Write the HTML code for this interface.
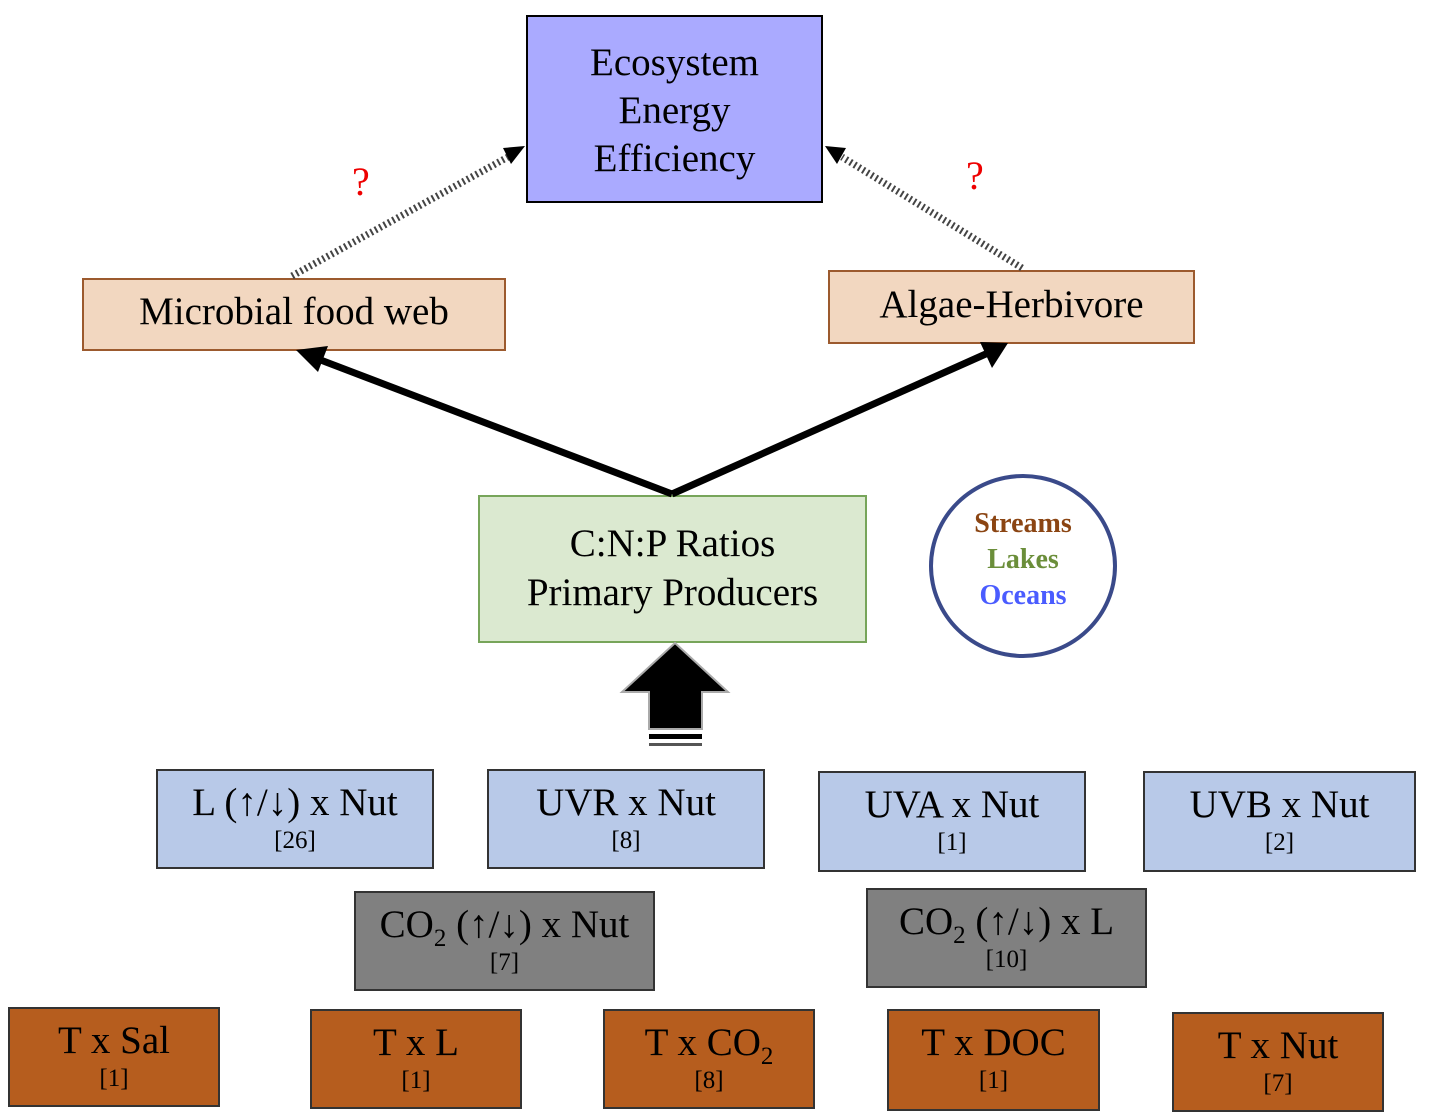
<!DOCTYPE html><html><head><style>
body{margin:0;width:1429px;height:1119px;background:#fff;position:relative;overflow:hidden;font-family:"Liberation Serif",serif}
.b{position:absolute;box-sizing:border-box;text-align:center;color:#000}
.t{font-size:39px;line-height:40px}
.s{font-size:25px;line-height:28px;margin-top:4px}
.blue{background:#b8c9e8;border:2px solid #333}
.gray{background:#808080;border:2px solid #333}
.brown{background:#b65d1e;border:2px solid #333}
sub{font-size:25px;line-height:0}
</style></head><body>
<div class="b t" style="left:526px;top:15px;width:297px;height:188px;background:#aaaaff;border:2px solid #000;padding-top:22px;line-height:48px">Ecosystem<br>Energy<br>Efficiency</div>
<div class="b t" style="left:82px;top:278px;width:424px;height:73px;background:#f2d7c0;border:2px solid #9c5a2e;padding-top:12px">Microbial food web</div>
<div class="b t" style="left:828px;top:270px;width:367px;height:74px;background:#f2d7c0;border:2px solid #9c5a2e;padding-top:13px">Algae-Herbivore</div>
<div class="b t" style="left:478px;top:495px;width:389px;height:148px;background:#dbe9d0;border:2px solid #77a55a;padding-top:22px;line-height:49px">C:N:P Ratios<br>Primary Producers</div>
<div class="b" style="left:929px;top:474px;width:188px;height:184px;border:4px solid #3a4a8a;border-radius:50%;font-weight:bold;font-size:28px;line-height:36px;padding-top:28px"><span style="color:#8b4513">Streams</span><br><span style="color:#6b8e3a">Lakes</span><br><span style="color:#4a5cff">Oceans</span></div>
<div style="position:absolute;left:352px;top:158px;color:#e00;font-size:40px">?</div>
<div style="position:absolute;left:966px;top:152px;color:#e00;font-size:40px">?</div>
<div class="b blue" style="left:156px;top:769px;width:278px;height:100px;padding-top:12px"><div class="t">L (↑/↓) x Nut</div><div class="s">[26]</div></div>
<div class="b blue" style="left:487px;top:769px;width:278px;height:100px;padding-top:12px"><div class="t">UVR x Nut</div><div class="s">[8]</div></div>
<div class="b blue" style="left:818px;top:771px;width:268px;height:101px;padding-top:12px"><div class="t">UVA x Nut</div><div class="s">[1]</div></div>
<div class="b blue" style="left:1143px;top:771px;width:273px;height:101px;padding-top:12px"><div class="t">UVB x Nut</div><div class="s">[2]</div></div>
<div class="b gray" style="left:354px;top:891px;width:301px;height:100px;padding-top:12px"><div class="t">CO<sub>2</sub> (↑/↓) x Nut</div><div class="s">[7]</div></div>
<div class="b gray" style="left:866px;top:888px;width:281px;height:100px;padding-top:12px"><div class="t">CO<sub>2</sub> (↑/↓) x L</div><div class="s">[10]</div></div>
<div class="b brown" style="left:8px;top:1007px;width:212px;height:100px;padding-top:12px"><div class="t">T x Sal</div><div class="s">[1]</div></div>
<div class="b brown" style="left:310px;top:1009px;width:212px;height:100px;padding-top:12px"><div class="t">T x L</div><div class="s">[1]</div></div>
<div class="b brown" style="left:603px;top:1009px;width:212px;height:100px;padding-top:12px"><div class="t">T x CO<sub>2</sub></div><div class="s">[8]</div></div>
<div class="b brown" style="left:887px;top:1009px;width:213px;height:102px;padding-top:12px"><div class="t">T x DOC</div><div class="s">[1]</div></div>
<div class="b brown" style="left:1172px;top:1012px;width:212px;height:100px;padding-top:12px"><div class="t">T x Nut</div><div class="s">[7]</div></div>
<svg style="position:absolute;left:0;top:0" width="1429" height="1119">
<g stroke="#000" stroke-width="7" fill="none">
<line x1="672" y1="494" x2="318" y2="359"/>
<line x1="672" y1="494" x2="988" y2="353"/>
</g>
<polygon points="296,350 328,346 318,372" fill="#000"/>
<polygon points="1008,343 992,368 980,342" fill="#000"/>
<g stroke="#444" stroke-width="7" stroke-dasharray="2,3" fill="none">
<line x1="292" y1="276" x2="508" y2="157"/>
<line x1="1022" y1="268" x2="842" y2="157"/>
</g>
<polygon points="525,146 503,148 511,164" fill="#000"/>
<polygon points="825,146 846,148 837,164" fill="#000"/>
<polygon points="675,643 728,692 702,692 702,729 649,729 649,692 622,692" fill="#000" stroke="#aaa" stroke-width="2"/>
<rect x="649" y="734" width="53" height="5" fill="#000"/>
<rect x="649" y="743" width="53" height="3" fill="#555"/>
</svg>
</body></html>
